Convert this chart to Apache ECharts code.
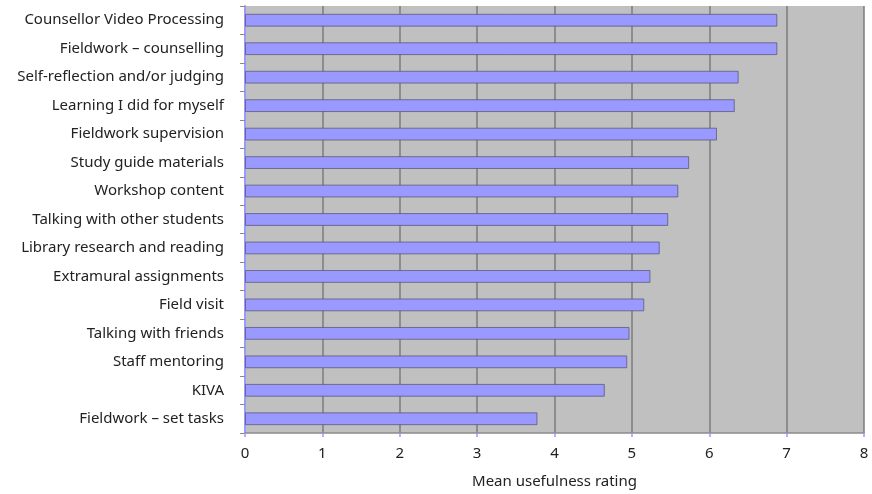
<!DOCTYPE html>
<html>
<head>
<meta charset="utf-8">
<script src="https://cdn.jsdelivr.net/npm/echarts@6/dist/echarts.min.js"></script>
<style>
  html, body { margin: 0; padding: 0; background: #ffffff; }
  #chart { width: 872px; height: 494px; }
</style>
</head>
<body>
<div id="chart"></div>
<script>
// Learning activities, top to bottom
const categories = [
  'Counsellor Video Processing',
  'Fieldwork \u2013 counselling',
  'Self-reflection and/or judging',
  'Learning I did for myself',
  'Fieldwork supervision',
  'Study guide materials',
  'Workshop content',
  'Talking with other students',
  'Library research and reading',
  'Extramural assignments',
  'Field visit',
  'Talking with friends',
  'Staff mentoring',
  'KIVA',
  'Fieldwork \u2013 set tasks'
];

// Mean usefulness rating for each activity
const ratings = [6.88, 6.88, 6.38, 6.33, 6.10, 5.74, 5.60, 5.47, 5.36, 5.24, 5.16, 4.97, 4.94, 4.65, 3.78];

const axisTitle = 'Mean usefulness rating';

const FONT = '"Noto Sans", "Open Sans", sans-serif';

const chart = echarts.init(document.getElementById('chart'), null, { renderer: 'canvas' });

chart.setOption({
  animation: false,
  backgroundColor: '#ffffff',
  grid: {
    left: 245,
    right: 8,
    top: 6,
    bottom: 61,
    show: true,
    backgroundColor: '#c0c0c0',
    borderWidth: 0
  },
  xAxis: {
    type: 'value',
    min: 0,
    max: 8,
    interval: 1,
    name: axisTitle,
    nameLocation: 'middle',
    nameGap: 41,
    nameTextStyle: { fontFamily: FONT, fontSize: 15, color: '#222' },
    axisLine: { show: true, onZero: false, lineStyle: { color: '#8a8a8a', width: 1.5 } },
    axisTick: { show: true, length: 4, lineStyle: { color: '#9999ff', width: 1.5 } },
    axisLabel: { fontFamily: FONT, fontSize: 15, color: '#222', margin: 13 },
    splitLine: { show: true, lineStyle: { color: '#7c7c7c', width: 1.5 } }
  },
  yAxis: {
    type: 'category',
    data: categories,
    inverse: true,
    axisLine: { show: true, lineStyle: { color: '#9999ff', width: 2 } },
    axisTick: { show: true, length: 5, alignWithLabel: false, lineStyle: { color: '#8a8a8a', width: 1 } },
    axisLabel: { fontFamily: FONT, fontSize: 15, color: '#222', margin: 21 },
    splitLine: { show: false }
  },
  series: [{
    type: 'bar',
    data: ratings,
    barWidth: '45%',
    itemStyle: {
      color: '#9999ff',
      borderColor: 'rgba(80,80,110,0.7)',
      borderWidth: 1
    }
  }]
});
</script>
</body>
</html>
